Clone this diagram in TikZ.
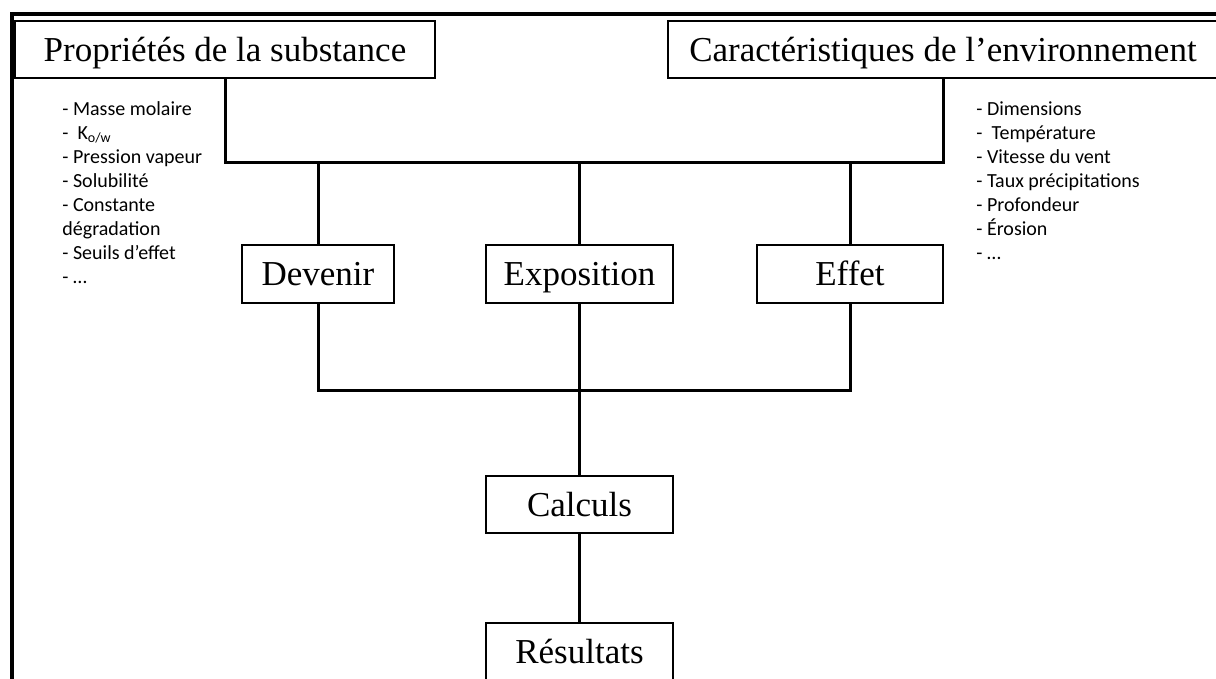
\documentclass[tikz,border=0pt]{standalone}
\usepackage{fontspec}
\setmainfont{Liberation Serif}
\newfontfamily\listfont{Carlito}
\begin{document}
\begin{tikzpicture}[x=0.5pt,y=-0.5pt,
  box/.style={draw=black, line width=0.75pt, inner sep=0pt,
    text height=11.6pt, text depth=0pt,
    font=\fontsize{17.5pt}{21pt}\selectfont},
  conn/.style={draw=black, line width=1.5pt},
  frameline/.style={draw=black, line width=2pt, line join=miter},
  list/.style={inner sep=0pt, align=left, anchor=north west,
    font=\listfont\fontsize{10pt}{12pt}\selectfont}]
\useasboundingbox (0,0) rectangle (1216,679);
\clip (0,0) rectangle (1216,679);

% page frame (left and top edges)
\draw[frameline] (12,690) -- (12,14) -- (1230,14);

% input boxes
\node[box, minimum width=210pt, minimum height=28.5pt] (P) at (225,49.5) {Propriétés de la substance};
\node[box, minimum width=275pt, minimum height=28.5pt] (C) at (943,49.5) {Caractéristiques de l’environnement};

% input parameter lists
\node[list] (Plist) at (62,101) {- Masse molaire\\
-~~K\textsubscript{o/w}\\
- Pression vapeur\\
- Solubilité\\
- Constante\\
dégradation\\
- Seuils d’effet\\
- …};
\node[list] (Clist) at (976,101) {- Dimensions\\
-~~Température\\
- Vitesse du vent\\
- Taux précipitations\\
- Profondeur\\
- Érosion\\
- …};

% middle row
\node[box, minimum width=76pt, minimum height=29pt] (Dev) at (318,274) {Devenir};
\node[box, minimum width=93.5pt, minimum height=29pt] (Exp) at (579.5,274) {Exposition};
\node[box, minimum width=93pt, minimum height=29pt] (Eff) at (850,274) {Effet};

% lower chain
\node[box, minimum width=93.5pt, minimum height=28.5pt] (Calc) at (579.5,504.5) {Calculs};
\node[box, minimum width=93.5pt, minimum height=28.5pt] (Res) at (579.5,651.5) {Résultats};

% bus lines
\coordinate (bus) at (580,163);
\coordinate (bus2) at (580,390);

\draw[conn] (P.south) -- (P.south |- bus) -- (C.south |- bus) -- (C.south);
\draw[conn] (Dev.north) -- (Dev.north |- bus);
\draw[conn] (Exp.north) -- (Exp.north |- bus);
\draw[conn] (Eff.north) -- (Eff.north |- bus);

\draw[conn] (Dev.south) -- (Dev.south |- bus2) -- (Eff.south |- bus2) -- (Eff.south);
\draw[conn] (Exp.south) -- (Calc.north);
\draw[conn] (Calc.south) -- (Res.north);
\end{tikzpicture}
\end{document}
